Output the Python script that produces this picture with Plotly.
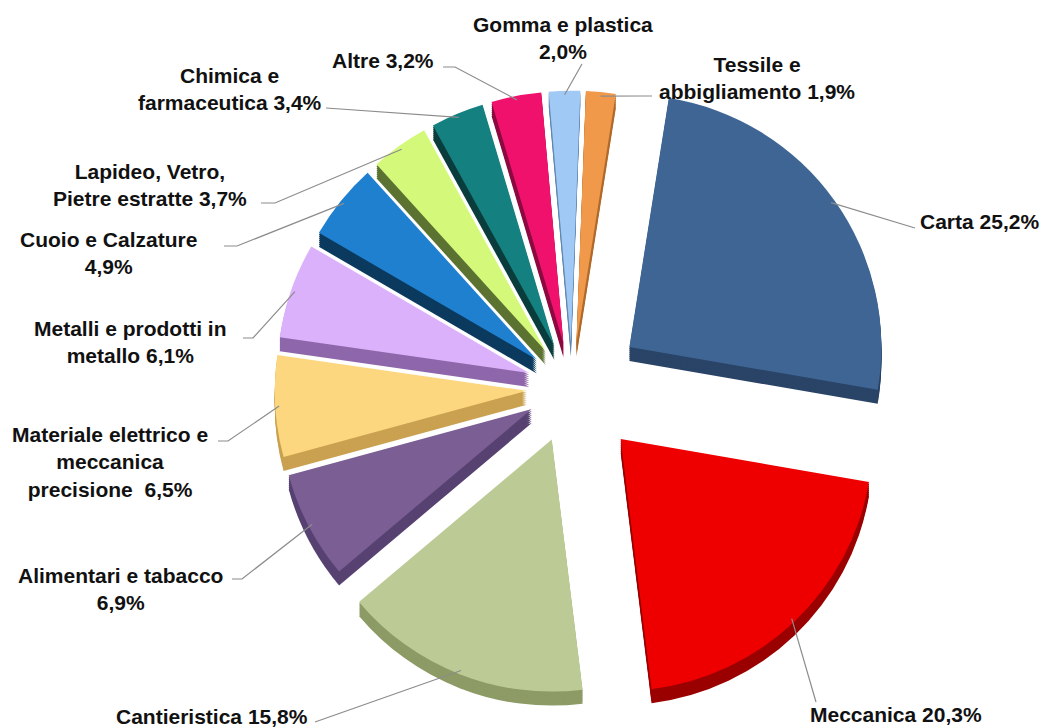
import math
import plotly.graph_objects as go

# Quota dei settori (%)
sectors = ["Carta", "Meccanica", "Cantieristica", "Alimentari e tabacco",
           "Materiale elettrico e meccanica precisione", "Metalli e prodotti in metallo",
           "Cuoio e Calzature", "Lapideo, Vetro, Pietre estratte",
           "Chimica e farmaceutica", "Altre", "Gomma e plastica", "Tessile e abbigliamento"]
shares = [25.2, 20.3, 15.8, 6.9, 6.5, 6.1, 4.9, 3.7, 3.4, 3.2, 2.0, 1.9]
label_templates = ["Carta {}%", "Meccanica {}%", "Cantieristica {}%",
                   "Alimentari e tabacco<br>{}%", "Materiale elettrico e<br>meccanica<br>precisione  {}%",
                   "Metalli e prodotti in<br>metallo {}%", "Cuoio e Calzature<br>{}%",
                   "Lapideo, Vetro,<br>Pietre estratte {}%", "Chimica e<br>farmaceutica {}%",
                   "Altre {}%", "Gomma e plastica<br>{}%", "Tessile e<br>abbigliamento {}%"]

# Stile
top_colors = ["#3e6594", "#ee0000", "#bccb95", "#7b5f94", "#fdd77f", "#dcb1fb",
              "#1f80d0", "#d4f97a", "#158080", "#f0116c", "#a0caf5", "#f0994a"]
side_colors = ["#2a4467", "#9a0000", "#8d9b66", "#574272", "#c9a150", "#8e67ab",
               "#0b3a5e", "#5c7232", "#0b3d3d", "#8c0b40", "#6088b0", "#b06a2b"]
pulls = [0.28, 0.28, 0.22, 0.18, 0.18, 0.18, 0.18, 0.18, 0.18, 0.18, 0.18, 0.18]

W, H = 1048, 727
CX, CY, R = 572, 388, 252
ROT = 9
DEPTH = 14
half = R * (1 + max(pulls))


def dom(dy):
    return dict(x=[(CX - half) / W, (CX + half) / W],
                y=[1 - (CY + dy + half) / H, 1 - (CY + dy - half) / H])


def pie(colors, dy):
    return go.Pie(values=shares, labels=sectors, sort=False, direction="clockwise",
                  rotation=ROT, pull=pulls, domain=dom(dy), textinfo="none",
                  hoverinfo="skip", showlegend=False,
                  marker=dict(colors=colors, line=dict(width=0)))


fig = go.Figure()
# spessore "3D": copie scure sfalsate verso il basso
for dy in range(DEPTH, 0, -2):
    fig.add_trace(pie(side_colors, dy))
fig.add_trace(pie(top_colors, 0))

# punti di aggancio delle linee guida sul bordo di ogni fetta
total = sum(shares)
anchors = []
acc = ROT
for v, p in zip(shares, pulls):
    span = v / total * 360
    mid = math.radians(acc + span / 2)
    d = R * (1 + p) - 4
    anchors.append((CX + d * math.sin(mid), CY - d * math.cos(mid)))
    acc += span

# posizione etichette (px) e partenza della linea guida
label_pos = [
    (918, 222, "left"), (808, 714, "left"), (310, 716, "right"),
    (120, 589, "center"), (110, 462, "center"), (130, 342, "center"),
    (108, 253, "center"), (150, 185, "center"), (230, 89, "center"),
    (383, 61, "center"), (563, 38, "center"), (757, 78, "center"),
]
leader_start = [
    [(915, 228)], [(816, 702)], [(315, 722)],
    [(232, 579), (242, 579)], [(218, 441), (228, 441)], [(243, 338), (253, 338)],
    [(224, 246), (237, 246)], [(261, 203), (275, 203)], [(326, 108)],
    [(443, 67), (455, 67)], [(582, 64)], [(652, 96), (642, 96)],
]


def pp(x, y):
    return x / W, 1 - y / H


for tmpl, v, (lx, ly, anc), pts, a in zip(label_templates, shares, label_pos,
                                          leader_start, anchors):
    txt = "<b>" + tmpl.format(f"{v:.1f}".replace(".", ",")).replace("<br>", "</b><br><b>") + "</b>"
    x, y = pp(lx, ly)
    fig.add_annotation(x=x, y=y, xref="paper", yref="paper", text=txt,
                       showarrow=False, xanchor=anc, yanchor="middle", align="center",
                       font=dict(family="Liberation Sans, Arial, sans-serif",
                                 size=21, color="#111111"))
    path_pts = pts + [a]
    path = "M " + " L ".join(f"{pp(px_, py_)[0]:.5f},{pp(px_, py_)[1]:.5f}"
                              for px_, py_ in path_pts)
    fig.add_shape(type="path", path=path, xref="paper", yref="paper",
                  line=dict(color="#8c8c8c", width=1.2))

fig.update_layout(width=W, height=H, margin=dict(l=0, r=0, t=0, b=0),
                  paper_bgcolor="white", plot_bgcolor="white")
fig.write_html("out.html")
